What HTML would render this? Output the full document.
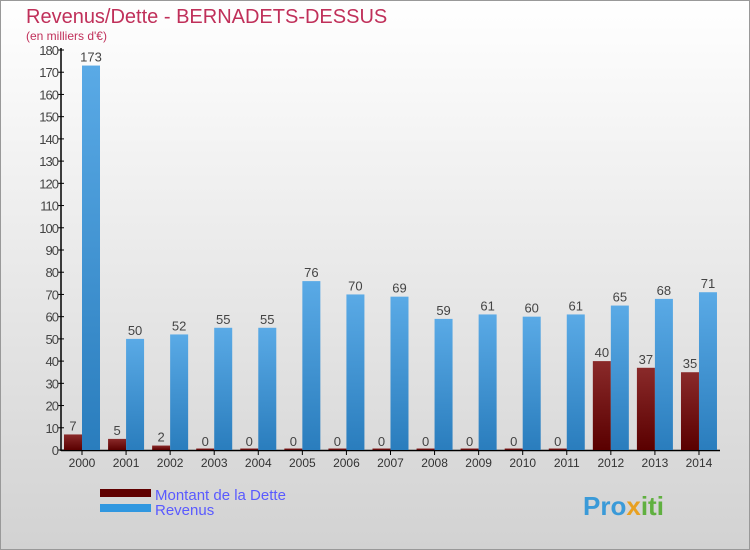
<!DOCTYPE html>
<html><head><meta charset="utf-8"><style>
body{margin:0}
svg{display:block;font-family:"Liberation Sans",sans-serif}
</style></head><body>
<svg id="chart" width="750" height="550" xmlns="http://www.w3.org/2000/svg">
<defs>
<linearGradient id="bg" x1="0" y1="0" x2="0" y2="1"><stop offset="0" stop-color="#ffffff"/><stop offset="1" stop-color="#d2d2d2"/></linearGradient>
<linearGradient id="gb" x1="0" y1="0" x2="0" y2="1"><stop offset="0" stop-color="#5aaae6"/><stop offset="1" stop-color="#2a7dbd"/></linearGradient>
<linearGradient id="gd" x1="0" y1="0" x2="0" y2="1"><stop offset="0" stop-color="#8a2a2a"/><stop offset="1" stop-color="#5a0000"/></linearGradient>
</defs>
<rect width="750" height="550" fill="url(#bg)"/>
<rect x="0.5" y="0.5" width="749" height="549" fill="none" stroke="#999"/>
<text x="26" y="23" font-size="20" fill="#c0305a">Revenus/Dette - BERNADETS-DESSUS</text>
<text x="26" y="40" font-size="12" fill="#c0305a">(en milliers d'€)</text>
<g id="axes"></g>
<g id="bars"></g>
<g>
<rect x="100" y="489" width="51" height="8" fill="#600000"/>
<text x="155" y="500" font-size="15" fill="#5a5aff">Montant de la Dette</text>
<rect x="100" y="504" width="51" height="8" fill="#3097e0"/>
<text x="155" y="515" font-size="15" fill="#5a5aff">Revenus</text>
</g>
<text x="583" y="515" font-size="26" font-weight="bold" fill="#3a9ad8">Pro<tspan fill="#e8a020">x</tspan><tspan fill="#60b040">iti</tspan></text>
</svg>
<script>
const years=["2000","2001","2002","2003","2004","2005","2006","2007","2008","2009","2010","2011","2012","2013","2014"];
const dette=[7,5,2,0,0,0,0,0,0,0,0,0,40,37,35];
const revenus=[173,50,52,55,55,76,70,69,59,61,60,61,65,68,71];
const yTicks=[0,10,20,30,40,50,60,70,80,90,100,110,120,130,140,150,160,170,180];
const NS="http://www.w3.org/2000/svg";
const y=v=>450-v*400/180;
const xc=i=>82+i*44.07;
function mk(tag,attrs,parent,text){const e=document.createElementNS(NS,tag);for(const k in attrs)e.setAttribute(k,attrs[k]);if(text!==undefined)e.textContent=text;parent.appendChild(e);return e;}
const ax=document.getElementById('axes'),bg=document.getElementById('bars');
let e=mk('line',{x1:61,y1:48,x2:61,y2:451,stroke:'#000','stroke-width':1.5},ax);


e=mk('line',{x1:61,y1:450.5,x2:720,y2:450.5,stroke:'#000','stroke-width':1.5},ax);


yTicks.forEach(t=>{
 mk('line',{x1:58,y1:y(t),x2:64,y2:y(t),stroke:'#000'},ax);
 e=mk('text',{x:58,y:y(t)+5,'font-size':13,'text-anchor':'end',fill:'#444','letter-spacing':'-1'},ax,t);
 
 
});
years.forEach((yr,i)=>{
 const c=xc(i);
 mk('line',{x1:c,y1:450,x2:c,y2:455,stroke:'#000'},ax);
 e=mk('text',{x:c,y:467,'font-size':12,'text-anchor':'middle',fill:'#333'},ax,yr);
 
 
 const hd=Math.max(450-y(dette[i]),1.5);
 e=mk('rect',{x:c-18,y:450-hd,width:18,height:hd,fill:'url(#gd)'},bg);
 
 
 e=mk('text',{x:c-9,y:y(dette[i])-4,'font-size':13,'text-anchor':'middle',fill:'#444'},bg,dette[i]);
 
 
 e=mk('rect',{x:c,y:y(revenus[i]),width:18,height:450-y(revenus[i]),fill:'url(#gb)'},bg);
 
 
 e=mk('text',{x:c+9,y:y(revenus[i])-4,'font-size':13,'text-anchor':'middle',fill:'#444'},bg,revenus[i]);
 
 
});
</script>
</body></html>
